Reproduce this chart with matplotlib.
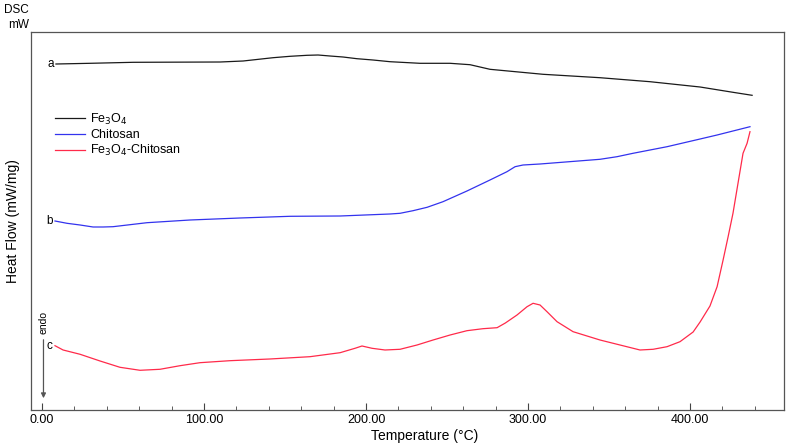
import matplotlib
matplotlib.use("Agg")
import matplotlib.pyplot as plt
from matplotlib.ticker import MultipleLocator, FormatStrFormatter

plt.rcParams['font.family'] = ['Liberation Sans', 'DejaVu Sans']

# -------------------------
# data (heat flow in arbitrary offset units)
# -------------------------
temp_a = [8.6, 29.6, 56.2, 109.9, 124.1, 142.6, 153.1, 163.6, 170.4, 177.8,
          185.8, 194.4, 204.3, 214.8, 233.3, 251.9, 264.2, 276.5, 309.3, 344.4,
          375.3, 406.2, 426.5, 438.3]
flow_a = [383.0, 383.7, 384.7, 385.0, 386.0, 389.3, 390.7, 391.7, 392.0, 391.0,
          390.0, 388.3, 387.0, 385.3, 383.7, 383.7, 382.3, 377.7, 372.7, 369.3,
          365.3, 360.0, 354.7, 351.7]

temp_b = [8.0, 15.4, 23.5, 31.5, 37.7, 43.8, 54.3, 64.8, 91.4, 122.2, 153.1,
          184.0, 214.8, 221.0, 229.0, 237.7, 247.5, 262.3, 276.5, 287.0, 292.0,
          296.9, 307.4, 344.4, 354.9, 364.8, 385.8, 406.2, 416.7, 437.0]
flow_b = [226.0, 223.7, 222.0, 220.0, 220.0, 220.3, 222.3, 224.3, 227.0, 229.0,
          230.7, 231.0, 233.0, 233.7, 236.3, 239.7, 245.3, 256.0, 267.0, 275.3,
          280.3, 282.0, 283.0, 287.7, 290.3, 293.7, 300.3, 308.0, 312.0, 320.3]

temp_c = [8.0, 13.0, 23.5, 35.8, 48.1, 60.5, 72.8, 85.2, 97.5, 116.0, 140.7,
          165.4, 184.0, 193.2, 197.5, 203.7, 211.7, 221.0, 231.5, 241.4, 251.9,
          262.3, 272.2, 280.9, 286.0, 293.2, 299.4, 303.1, 307.4, 311.7, 317.9,
          327.8, 344.4, 369.1, 377.2, 385.8, 393.8, 401.9, 406.2, 412.3, 416.7,
          420.4, 423.5, 426.5, 429.6, 432.7, 435.2, 437.0]
flow_c = [101.3, 97.0, 92.7, 86.0, 79.7, 76.7, 77.7, 81.3, 84.3, 86.3, 88.0,
          90.3, 94.3, 98.7, 101.0, 98.7, 97.0, 97.7, 102.0, 107.0, 112.0,
          116.3, 118.3, 119.3, 124.0, 132.0, 140.3, 143.7, 142.0, 135.3, 125.3,
          115.3, 107.0, 97.0, 97.7, 100.3, 105.3, 115.0, 125.0, 141.0, 160.3,
          187.0, 210.3, 233.7, 263.7, 293.7, 303.7, 315.3]

series_names = ['Fe$_3$O$_4$', 'Chitosan', 'Fe$_3$O$_4$-Chitosan']
series_letters = ['a', 'b', 'c']
series_colors = ['#1a1a1a', '#3333ee', '#ff2a4a']

x_ticks = [0, 100, 200, 300, 400]

# -------------------------
# figure
# -------------------------
fig = plt.figure(figsize=(7.87, 4.47), dpi=100)
ax = fig.add_axes([0.0394, 0.0828, 0.9568, 0.8456])

curves = [(temp_a, flow_a), (temp_b, flow_b), (temp_c, flow_c)]
for (tx, fy), name, letter, col in zip(curves, series_names, series_letters, series_colors):
    ax.plot(tx, fy, color=col, lw=0.9, label=name)
    # letter just left of the first point
    ax.text(tx[0] - 1.5, fy[0], letter, ha='right', va='center', fontsize=8.5)

ax.set_xlim(-6.8, 458.0)
ax.set_ylim(37, 415)

# ticks: bottom only, inward
ax.set_xticks(x_ticks)
ax.xaxis.set_major_formatter(FormatStrFormatter('%.2f'))
ax.xaxis.set_minor_locator(MultipleLocator(20))
ax.tick_params(axis='x', which='major', direction='in', length=5, width=0.8,
               labelsize=9, pad=3, color='#444444')
ax.tick_params(axis='x', which='minor', direction='in', length=3, width=0.6,
               color='#444444')
ax.set_yticks([])

for sp in ax.spines.values():
    sp.set_color('#555555')
    sp.set_linewidth(0.9)

ax.set_xlabel('Temperature (°C)', fontsize=10)
ax.xaxis.set_label_coords(0.523, -0.05)
ax.set_ylabel('Heat Flow (mW/mg)', fontsize=10, labelpad=8)

# legend
leg = ax.legend(loc='upper left', bbox_to_anchor=(0.032, 0.789), frameon=False,
                fontsize=9, handlelength=2.4, handletextpad=0.4,
                labelspacing=0.17, borderaxespad=0, borderpad=0)

# endo arrow
ax.annotate('', xy=(0.9, 46), xytext=(0.9, 110),
            arrowprops=dict(arrowstyle='-|>', color='#555555', lw=0.9,
                            mutation_scale=7))
ax.text(1.0, 124, 'endo', rotation=90, ha='center', va='center', fontsize=7.5)

# DSC / mW header
fig.text(29 / 787, 1 - 10 / 447, 'DSC', ha='right', va='center', fontsize=8.5)
fig.text(29 / 787, 1 - 25 / 447, 'mW', ha='right', va='center', fontsize=8.5)

fig.savefig('out.png', dpi=100)
